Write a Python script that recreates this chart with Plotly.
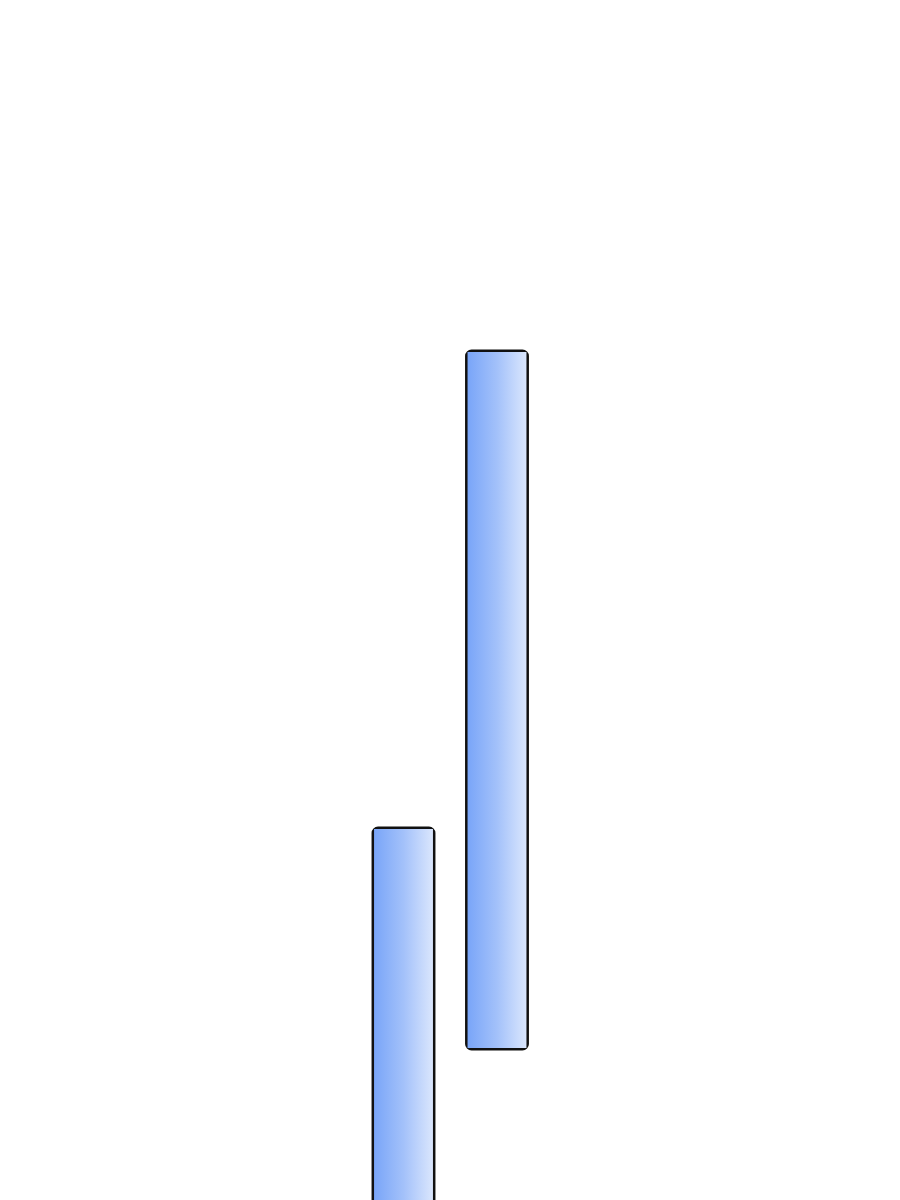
import plotly.graph_objects as go

# two floating bars (start / end values)
categories = [0, 1]
bar_base = [-10.0, 12.75]
bar_top = [31.0, 70.75]

bar_width = 0.63
fig = go.Figure()

# outline of the bars (bars sit under scatter fills, so only the outer half of the line shows)
fig.add_trace(go.Bar(
    x=categories, y=[t - b for b, t in zip(bar_base, bar_top)], base=bar_base,
    width=bar_width,
    marker=dict(color="rgba(0,0,0,0)", line=dict(color="#111111", width=5), cornerradius=4),
    showlegend=False))

# gradient fill, one polygon per bar built from the values
for cx, b, t in zip(categories, bar_base, bar_top):
    x0 = cx - bar_width / 2
    x1 = cx + bar_width / 2
    fig.add_trace(go.Scatter(
        x=[x0, x1, x1, x0, x0], y=[b, b, t, t, b],
        mode="lines", line=dict(width=0), fill="toself",
        fillgradient=dict(type="horizontal",
                          colorscale=[[0, "#79a5f8"], [0.5, "#a3c1fa"], [1, "#dae6fd"]]),
        hoverinfo="skip", showlegend=False))

fig.update_layout(
    width=900, height=1200,
    margin=dict(l=0, r=0, t=0, b=0),
    paper_bgcolor="white", plot_bgcolor="white",
    xaxis=dict(range=[-4.23, 5.3958], visible=False),
    yaxis=dict(range=[-0.583, 99.417], visible=False),
)

fig.write_html("out.html")
